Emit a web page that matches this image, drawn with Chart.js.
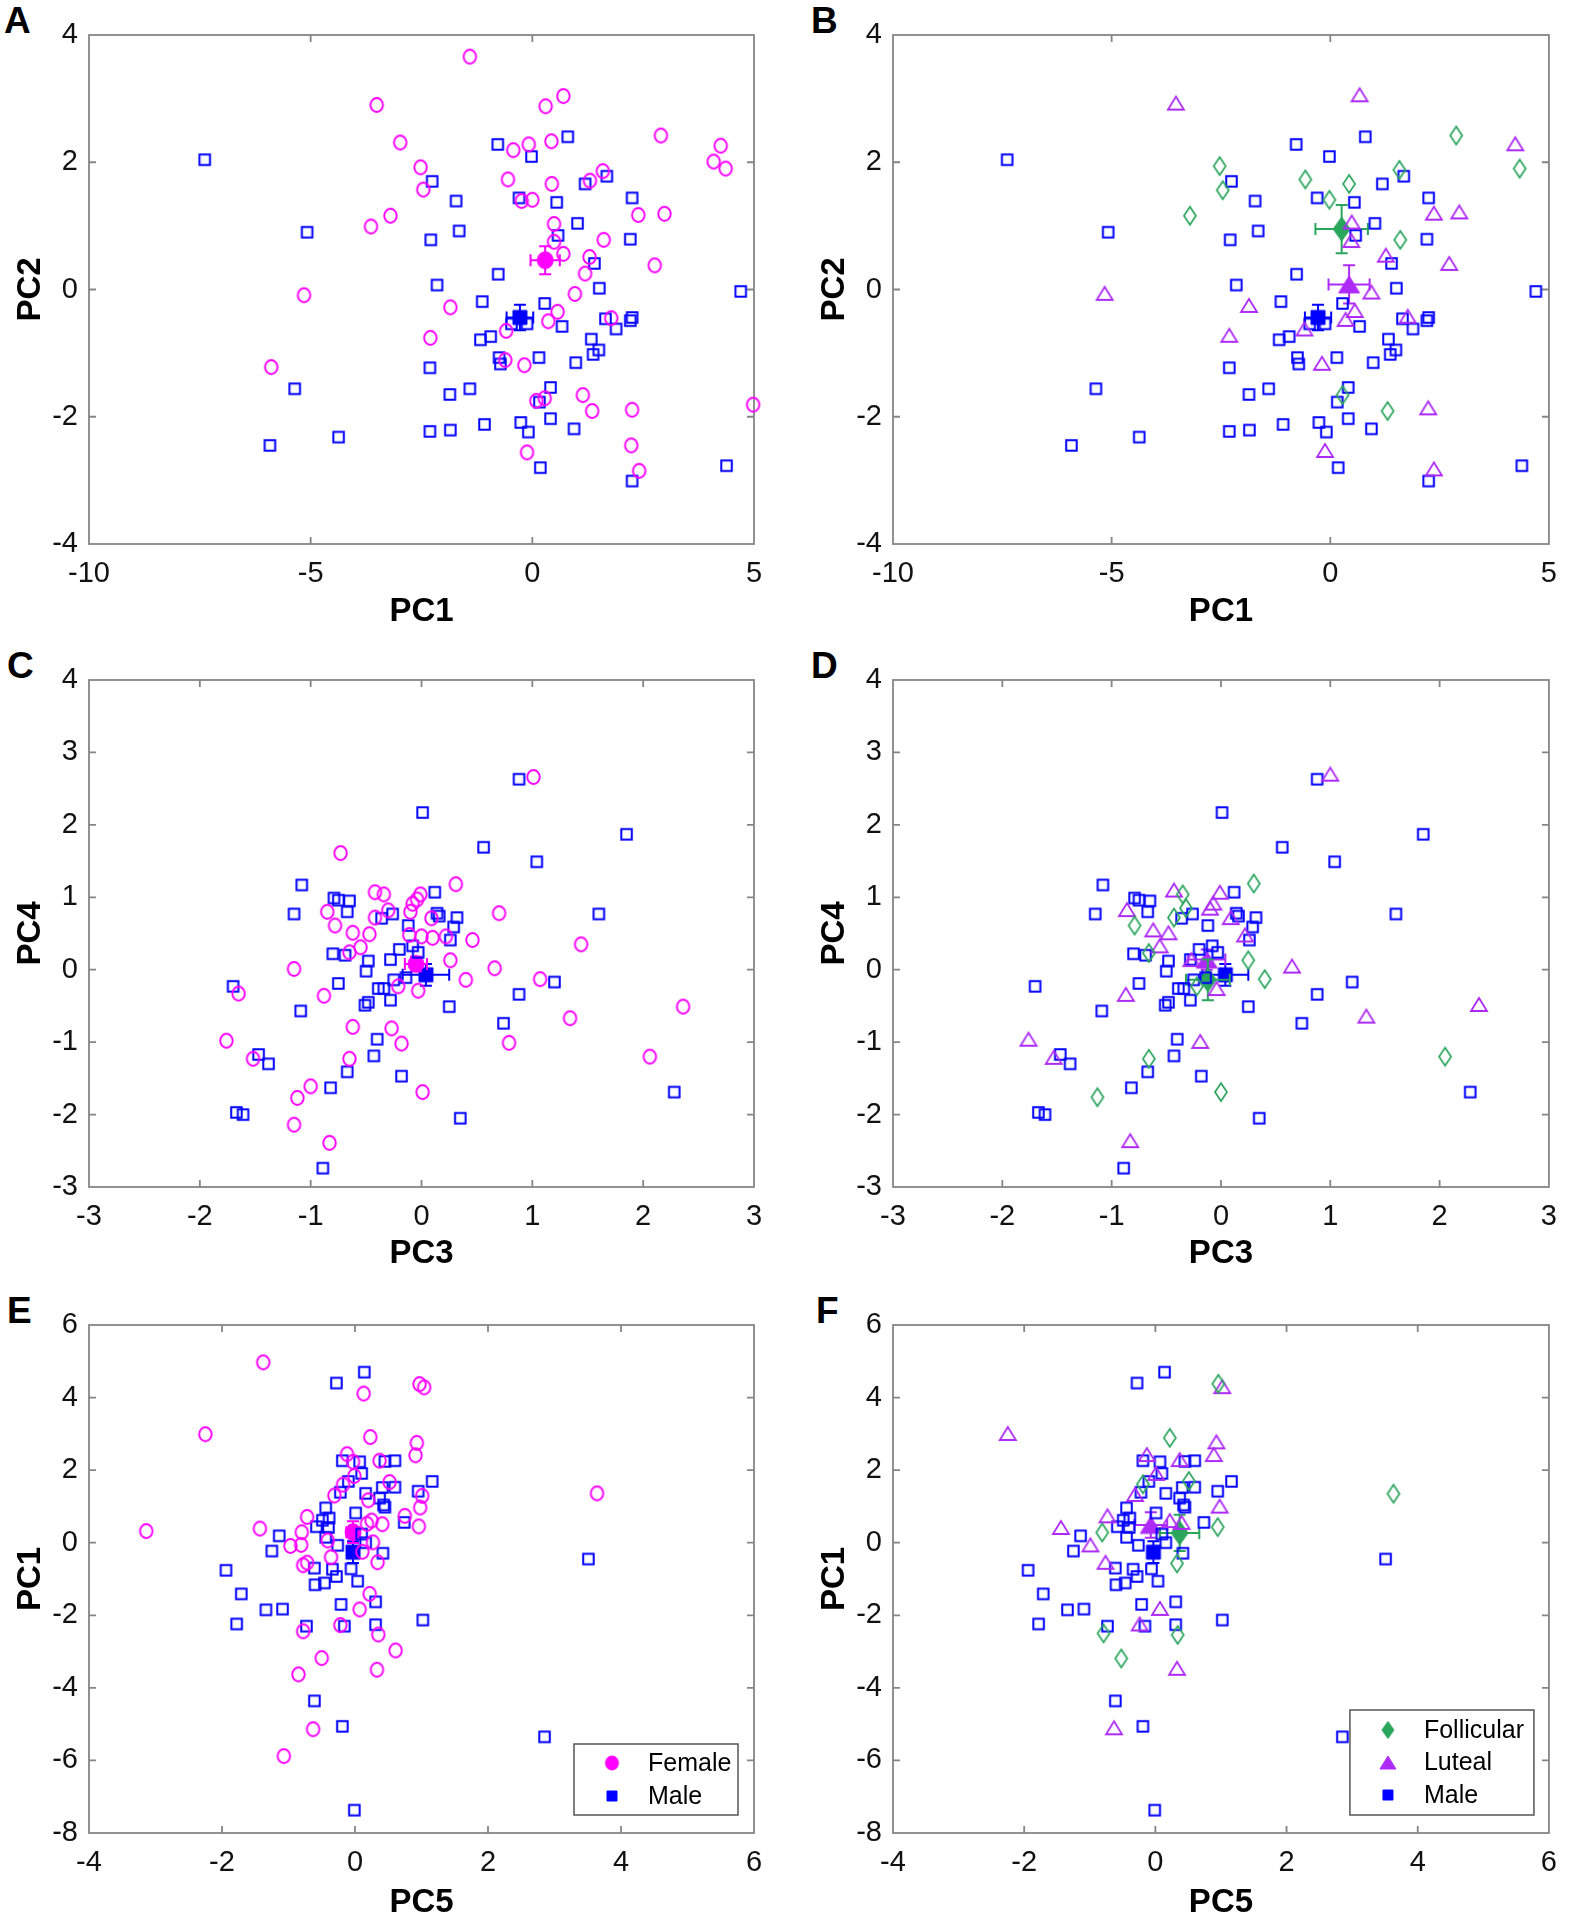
<!DOCTYPE html>
<html lang="en">
<head>
    <meta charset="UTF-8">
    <title>PC scores: female / male, follicular / luteal</title>
    <style>
        body {
            margin: 0;
            background: #fff;
            font-family: "Liberation Sans", Arial, sans-serif;
            overflow: hidden;
        }
        #page {
            position: relative;
            width: 1570px;
            height: 1920px;
        }
        .panel {
            position: absolute;
        }
        .tag {
            position: absolute;
            font-weight: bold;
            font-size: 37px;
            line-height: 1;
            color: #000;
        }
    </style>
    <script src="https://cdn.jsdelivr.net/npm/chart.js"></script>
</head>
<body>
<div id="page">
    <div class="tag" style="left:4px;top:2px">A</div>
    <div class="tag" style="left:811px;top:2px">B</div>
    <div class="tag" style="left:7px;top:647px">C</div>
    <div class="tag" style="left:811px;top:647px">D</div>
    <div class="tag" style="left:7px;top:1292px">E</div>
    <div class="tag" style="left:816px;top:1292px">F</div>
</div>
<script>
    // ---- tick values ----
    const ticksPC1 = [-10, -5, 0, 5];
    const ticksPC2 = [-4, -2, 0, 2, 4];
    const ticksPC3 = [-3, -2, -1, 0, 1, 2, 3];
    const ticksPC4 = [-3, -2, -1, 0, 1, 2, 3, 4];
    const ticksPC5 = [-4, -2, 0, 2, 4, 6];
    const ticksPC1v = [-8, -6, -4, -2, 0, 2, 4, 6];

    // ---- PC1 vs PC2 (panels A, B) ----
    const maleAB_x = [-7.39, -0.78, -0.02, 0.80, -2.26, -1.72, -0.30, 0.55, 1.19, 1.68, 2.25, -5.08, -2.29, -1.65, 1.02, 0.58, 2.21, 1.40, -0.77, -2.15, 1.51, 4.70, -1.13, 0.28, -0.47, -0.12, 0.67, 1.65, 1.89, 2.21, 2.25, -1.17, -0.94, 1.33, -0.75, -0.72, 0.15, 0.98, 1.37, 1.50, -2.31, -5.36, -1.41, -1.86, 0.41, 0.16, -2.31, -1.85, -1.08, -0.26, -0.09, 0.41, 0.94, -5.92, -4.37, 0.18, 2.25, 4.38];
    const maleAB_y = [2.04, 2.28, 2.09, 2.40, 1.70, 1.39, 1.44, 1.37, 1.66, 1.78, 1.44, 0.90, 0.78, 0.92, 1.04, 0.85, 0.79, 0.41, 0.24, 0.07, 0.02, -0.03, -0.19, -0.22, -0.54, -0.54, -0.58, -0.46, -0.62, -0.49, -0.44, -0.79, -0.74, -0.78, -1.07, -1.17, -1.07, -1.15, -1.02, -0.95, -1.23, -1.56, -1.56, -1.65, -1.54, -1.77, -2.23, -2.21, -2.12, -2.09, -2.24, -2.03, -2.19, -2.45, -2.32, -2.80, -3.01, -2.77];
    const femaleA_x = [-1.41, -3.51, 0.30, 0.70, -2.98, -0.08, -0.43, 0.43, 2.90, 4.25, 4.09, 4.36, -2.52, -2.46, -0.55, 0.44, 1.59, 1.30, -0.24, 0.00, -3.20, -3.64, 0.49, 2.39, 2.98, 1.61, 0.49, 0.70, 1.29, 2.76, 1.19, -5.15, 0.96, -1.85, 0.57, 0.36, -0.59, 1.78, -2.30, -5.89, -0.61, -0.18, 1.14, 0.28, 0.09, 1.35, 2.25, 4.98, -0.12, 2.23, 2.41];
    const femaleA_y = [3.66, 2.90, 2.88, 3.04, 2.31, 2.28, 2.19, 2.33, 2.42, 2.26, 2.01, 1.90, 1.92, 1.57, 1.73, 1.66, 1.86, 1.71, 1.39, 1.41, 1.16, 0.99, 1.03, 1.17, 1.19, 0.78, 0.75, 0.56, 0.51, 0.38, 0.25, -0.09, -0.07, -0.28, -0.35, -0.50, -0.65, -0.45, -0.76, -1.22, -1.11, -1.19, -1.66, -1.71, -1.75, -1.91, -1.89, -1.81, -2.56, -2.45, -2.85];
    const follB_x = [-2.53, -2.46, -3.21, -0.57, 0.43, -0.02, 1.58, 2.88, 4.33, 1.60, 0.28, 1.31];
    const follB_y = [1.94, 1.56, 1.16, 1.73, 1.66, 1.41, 1.88, 2.42, 1.90, 0.78, -1.66, -1.91];
    const lutB_x = [-3.53, 0.67, 4.23, 0.49, 2.37, 2.95, 0.48, 1.27, 2.72, -5.16, 0.94, -1.86, 0.56, 0.35, -0.59, 1.77, -2.31, -0.19, 2.24, -0.12, 2.37];
    const lutB_y = [2.93, 3.06, 2.29, 1.06, 1.20, 1.22, 0.77, 0.54, 0.41, -0.06, -0.04, -0.25, -0.33, -0.47, -0.62, -0.42, -0.72, -1.16, -1.86, -2.53, -2.82];
    // group means [x, y] and error half-widths [ex, ey]
    const meanFemaleA = [0.29, 0.46], errFemaleA = [0.33, 0.22];
    const meanMaleAB = [-0.28, -0.44], errMaleAB = [0.30, 0.20];
    const meanFollB = [0.26, 0.95], errFollB = [0.60, 0.38];
    const meanLutB = [0.43, 0.08], errLutB = [0.47, 0.30];

    // ---- PC3 vs PC4 (panels C, D) ----
    const maleCD_x = [0.88, 0.01, 1.85, 0.56, 1.04, -1.08, 0.12, -0.79, -0.75, -0.65, -1.15, -0.67, -0.36, -0.26, 0.14, 0.16, 0.32, 0.29, -0.12, 1.60, 0.26, -0.08, -0.20, -0.03, -0.80, -0.69, -0.48, -0.28, -0.50, -0.75, -0.25, -0.14, 1.20, -1.70, -0.39, -0.34, -0.28, 0.88, -0.48, -0.51, 0.25, -1.09, 0.74, -0.40, -1.47, -1.38, -0.43, -0.67, -0.18, -0.82, 2.28, -1.67, -1.61, 0.35, -0.89];
    const maleCD_y = [2.63, 2.17, 1.87, 1.69, 1.49, 1.17, 1.07, 0.99, 0.96, 0.95, 0.77, 0.80, 0.71, 0.77, 0.78, 0.74, 0.72, 0.59, 0.61, 0.77, 0.41, 0.33, 0.28, 0.24, 0.22, 0.20, 0.12, 0.14, -0.02, -0.19, -0.14, -0.11, -0.17, -0.23, -0.26, -0.26, -0.42, -0.34, -0.45, -0.49, -0.51, -0.57, -0.74, -0.96, -1.17, -1.30, -1.19, -1.41, -1.47, -1.63, -1.69, -1.97, -2.00, -2.05, -2.74];
    const femaleC_x = [1.01, -0.73, 0.31, -0.42, -0.34, -0.01, -0.04, -0.08, -0.30, -0.10, -0.85, 0.70, -0.42, 0.09, -0.78, -0.62, -0.47, -0.11, 0.00, 0.10, 0.22, 0.46, 1.44, -0.55, -0.65, 0.26, 0.66, -1.15, 0.40, 1.07, -0.21, -0.03, -1.65, -0.88, 2.36, 1.34, -0.62, -0.27, -1.76, -0.18, 0.79, -1.52, -0.65, 2.06, -1.00, -1.12, 0.01, -1.15, -0.83];
    const femaleC_y = [2.66, 1.61, 1.18, 1.07, 1.04, 1.04, 0.97, 0.91, 0.82, 0.80, 0.80, 0.78, 0.72, 0.71, 0.61, 0.51, 0.49, 0.48, 0.46, 0.44, 0.46, 0.41, 0.35, 0.31, 0.24, 0.13, 0.02, 0.01, -0.14, -0.13, -0.23, -0.29, -0.33, -0.36, -0.51, -0.67, -0.79, -0.81, -0.98, -1.02, -1.01, -1.23, -1.23, -1.20, -1.61, -1.77, -1.69, -2.14, -2.39];
    const follD_x = [0.30, -0.35, -0.32, -0.43, -0.79, -0.66, 0.25, 0.40, -0.22, -0.66, -1.13, 0.00, 2.05];
    const follD_y = [1.19, 1.04, 0.85, 0.72, 0.61, 0.23, 0.13, -0.13, -0.23, -1.23, -1.76, -1.69, -1.20];
    const lutD_x = [1.00, -0.43, -0.01, -0.07, -0.10, -0.86, 0.09, -0.62, -0.48, 0.22, -0.56, -0.27, 0.65, -0.87, -0.04, 1.33, 2.36, -1.76, -1.53, -0.19, -0.83];
    const lutD_y = [2.70, 1.10, 1.07, 0.92, 0.85, 0.83, 0.72, 0.55, 0.51, 0.48, 0.33, 0.14, 0.05, -0.34, -0.26, -0.64, -0.48, -0.96, -1.21, -0.99, -2.36];
    const meanFemaleC = [-0.05, 0.08], errFemaleC = [0.10, 0.10];
    const meanMaleCD = [0.04, -0.07], errMaleCD = [0.21, 0.15];
    const meanFollD = [-0.12, -0.14], errFollD = [0.20, 0.28];
    const meanLutD = [-0.13, 0.14], errLutD = [0.17, 0.14];

    // ---- PC5 vs PC1 (panels E, F) ----
    const maleEF_x = [0.14, -0.28, -0.19, 0.07, 0.45, 0.60, 0.10, 1.16, -0.10, -0.22, 0.16, 0.41, 0.60, 0.95, 0.37, 0.43, 0.45, -0.44, 0.01, -0.39, -0.49, 0.74, -0.58, -0.40, -1.14, -0.44, 0.10, -1.25, -0.26, 0.16, 0.42, -1.94, -0.61, -0.34, -0.06, -0.28, 0.04, -0.60, -0.46, -1.71, -1.34, -1.09, -0.21, 0.31, -1.78, -0.73, -0.16, 0.31, 1.02, 3.51, -0.61, -0.19, 2.85, -0.01];
    const maleEF_y = [4.70, 4.40, 2.26, 2.23, 2.24, 2.26, 1.91, 1.69, 1.69, 1.39, 1.36, 1.52, 1.53, 1.42, 1.23, 1.04, 0.98, 0.96, 0.82, 0.68, 0.62, 0.56, 0.44, 0.42, 0.19, 0.15, 0.24, -0.23, -0.07, 0.00, -0.29, -0.76, -0.70, -0.73, -0.72, -0.93, -1.06, -1.16, -1.11, -1.41, -1.85, -1.83, -1.70, -1.63, -2.24, -2.30, -2.30, -2.26, -2.13, -0.45, -4.36, -5.06, -5.35, -7.37];
    const femaleE_x = [-1.38, 0.97, 1.04, 0.13, -2.25, 0.23, 0.93, 0.91, -0.12, -0.03, 0.37, -0.01, -0.18, 0.52, -0.31, 0.20, 1.01, 3.64, 0.98, -0.72, 0.75, 0.25, 0.18, 0.41, 0.96, -1.43, -3.14, -0.80, -0.97, -0.81, 0.27, -0.41, -0.36, 0.11, 0.34, -0.78, -0.72, 0.22, 0.07, -0.22, -0.78, 0.35, 0.61, -0.50, 0.33, -0.85, -0.63, -1.07];
    const femaleE_y = [4.97, 4.37, 4.28, 4.11, 2.99, 2.91, 2.75, 2.41, 2.44, 2.23, 2.26, 1.84, 1.60, 1.67, 1.30, 1.17, 1.29, 1.36, 0.97, 0.71, 0.74, 0.61, 0.52, 0.51, 0.45, 0.39, 0.32, 0.29, -0.09, -0.06, 0.01, 0.06, -0.40, -0.25, -0.54, -0.62, -0.55, -1.41, -1.84, -2.27, -2.44, -2.53, -2.97, -3.18, -3.50, -3.63, -5.14, -5.88];
    const follF_x = [0.96, 0.22, 0.51, -0.19, 3.63, 0.95, -0.81, 0.33, -0.79, 0.34, -0.52];
    const follF_y = [4.38, 2.89, 1.70, 1.61, 1.35, 0.43, 0.28, -0.57, -2.50, -2.54, -3.19];
    const lutF_x = [1.02, -2.25, 0.93, 0.89, -0.13, 0.37, 0.01, -0.31, 0.98, -0.73, 0.22, 0.40, -1.44, -0.99, -0.76, 0.07, -0.24, 0.33, -0.63];
    const lutF_y = [4.30, 3.01, 2.78, 2.43, 2.43, 2.29, 1.91, 1.33, 1.01, 0.74, 0.61, 0.56, 0.42, -0.06, -0.54, -1.81, -2.24, -3.46, -5.10];
    const meanFemaleE = [-0.03, 0.29], errFemaleE = [0.10, 0.30];
    const meanMaleEF = [-0.03, -0.26], errMaleEF = [0.08, 0.30];
    const meanFollF = [0.37, 0.27], errFollF = [0.30, 0.50];
    const meanLutF = [-0.07, 0.49], errLutF = [0.25, 0.35];

    // ---- colours ----
    const C_FEMALE = '#ff00ff';
    const C_MALE = '#0000ff';
    const C_FOLL = '#2aa55c';
    const C_LUT = '#ae2bf7';

    // small canvases used as point styles
    function markerImage(shape, color, filled, w, h, lw) {
        const pad = Math.ceil(lw) + 1;
        const c = document.createElement('canvas');
        c.width = Math.ceil(w + 2 * pad);
        c.height = Math.ceil(h + 2 * pad);
        const g = c.getContext('2d');
        const cx = c.width / 2, cy = c.height / 2;
        g.beginPath();
        if (shape === 'circle') {
            g.ellipse(cx, cy, w / 2, h / 2, 0, 0, Math.PI * 2);
        } else if (shape === 'square') {
            g.rect(cx - w / 2, cy - h / 2, w, h);
        } else if (shape === 'diamond') {
            g.moveTo(cx, cy - h / 2);
            g.lineTo(cx + w / 2, cy);
            g.lineTo(cx, cy + h / 2);
            g.lineTo(cx - w / 2, cy);
            g.closePath();
        } else {
            g.moveTo(cx, cy - h / 2);
            g.lineTo(cx + w / 2, cy + h / 2);
            g.lineTo(cx - w / 2, cy + h / 2);
            g.closePath();
        }
        if (filled) {
            g.fillStyle = color;
            g.fill();
        }
        g.strokeStyle = color;
        g.lineWidth = lw;
        g.stroke();
        return c;
    }

    const mk = {
        female: markerImage('circle', C_FEMALE, false, 12.5, 14, 1.9),
        male: markerImage('square', C_MALE, false, 10.5, 10.5, 2),
        foll: markerImage('diamond', C_FOLL, false, 12, 18, 1.7),
        lut: markerImage('triangle', C_LUT, false, 16, 13, 1.8),
        femaleMean: markerImage('circle', C_FEMALE, true, 16, 17, 1),
        maleMean: markerImage('square', C_MALE, true, 14, 14, 1),
        follMean: markerImage('diamond', C_FOLL, true, 17, 24, 1),
        lutMean: markerImage('triangle', C_LUT, true, 21, 17, 1),
        femaleKey: markerImage('circle', C_FEMALE, true, 13, 14, 1),
        maleKey: markerImage('square', C_MALE, true, 10, 10, 1),
        follKey: markerImage('diamond', C_FOLL, true, 12, 17, 1),
        lutKey: markerImage('triangle', C_LUT, true, 16, 13, 1)
    };

    function points(xs, ys) {
        return xs.map((x, i) => ({x: x, y: ys[i]}));
    }

    function cloud(label, xs, ys, img) {
        return {label: label, data: points(xs, ys), pointStyle: img, pointRadius: 6, clip: false};
    }

    function meanSet(label, m, e, color, img, key) {
        return {
            label: label, data: [{x: m[0], y: m[1]}], pointStyle: img, pointRadius: 8, clip: false,
            errX: e[0], errY: e[1], errColor: color, legendImg: key
        };
    }

    // error bars drawn just before the mean marker of each group
    const errorBars = {
        id: 'errorBars',
        beforeDatasetDraw(chart, args) {
            const ds = chart.data.datasets[args.index];
            if (ds.errX === undefined) return;
            const xs = chart.scales.x, ys = chart.scales.y, g = chart.ctx;
            const p = ds.data[0];
            const px = xs.getPixelForValue(p.x), py = ys.getPixelForValue(p.y);
            const x0 = xs.getPixelForValue(p.x - ds.errX), x1 = xs.getPixelForValue(p.x + ds.errX);
            const y0 = ys.getPixelForValue(p.y - ds.errY), y1 = ys.getPixelForValue(p.y + ds.errY);
            const cap = 6;
            g.save();
            g.strokeStyle = ds.errColor;
            g.lineWidth = 2;
            g.beginPath();
            g.moveTo(x0, py); g.lineTo(x1, py);
            g.moveTo(x0, py - cap); g.lineTo(x0, py + cap);
            g.moveTo(x1, py - cap); g.lineTo(x1, py + cap);
            g.moveTo(px, y0); g.lineTo(px, y1);
            g.moveTo(px - cap, y0); g.lineTo(px + cap, y0);
            g.moveTo(px - cap, y1); g.lineTo(px + cap, y1);
            g.stroke();
            g.restore();
        }
    };

    // box round the plot area with inward ticks on all four sides
    const frame = {
        id: 'frame',
        beforeDatasetsDraw(chart) {
            const {left, right, top, bottom} = chart.chartArea;
            const g = chart.ctx, t = 7;
            const xs = chart.scales.x, ys = chart.scales.y;
            g.save();
            g.strokeStyle = '#858585';
            g.lineWidth = 1.8;
            g.strokeRect(left, top, right - left, bottom - top);
            g.beginPath();
            xs.ticks.forEach(tk => {
                const px = xs.getPixelForValue(tk.value);
                if (px <= left + 1 || px >= right - 1) return;
                g.moveTo(px, bottom); g.lineTo(px, bottom - t);
                g.moveTo(px, top); g.lineTo(px, top + t);
            });
            ys.ticks.forEach(tk => {
                const py = ys.getPixelForValue(tk.value);
                if (py <= top + 1 || py >= bottom - 1) return;
                g.moveTo(left, py); g.lineTo(left + t, py);
                g.moveTo(right, py); g.lineTo(right - t, py);
            });
            g.stroke();
            g.restore();
        }
    };

    // boxed legend in the lower right corner of the plot area
    const boxLegend = {
        id: 'boxLegend',
        afterDraw(chart, args, opts) {
            if (!opts || !opts.width) return;
            const rows = chart.data.datasets.filter(d => d.legendImg);
            const {right, bottom} = chart.chartArea;
            const h = opts.firstRow * 2 + (rows.length - 1) * opts.rowGap;
            const x = right - opts.right - opts.width;
            const y = bottom - opts.bottom - h;
            const g = chart.ctx;
            g.save();
            g.fillStyle = '#fff';
            g.fillRect(x, y, opts.width, h);
            g.strokeStyle = '#555';
            g.lineWidth = 1.5;
            g.strokeRect(x, y, opts.width, h);
            g.font = '25px "Liberation Sans", Arial, sans-serif';
            g.fillStyle = '#000';
            g.textBaseline = 'middle';
            rows.forEach((d, i) => {
                const ry = y + opts.firstRow + i * opts.rowGap;
                const img = d.legendImg;
                g.drawImage(img, x + 38 - img.width / 2, ry - img.height / 2);
                g.fillText(d.label, x + 74, ry + 1);
            });
            g.restore();
        }
    };

    // page geometry of the six panels
    const COLS = [
        {x: 0, w: 785, left: 89, right: 754, yTitlePad: 14.5},
        {x: 790, w: 780, left: 893, right: 1557, yTitlePad: 28.5}
    ];
    const ROWS = [
        {y: 0, h: 645, top: 35, bottom: 544, xTitlePad: 16.5},
        {y: 645, h: 645, top: 680, bottom: 1187, xTitlePad: 19.5},
        {y: 1290, h: 630, top: 1325, bottom: 1833, xTitlePad: 0.5}
    ];

    const tickFont = {family: '"Liberation Sans", Arial, sans-serif', size: 29};
    const titleFont = {family: '"Liberation Sans", Arial, sans-serif', size: 33, weight: 'bold', lineHeight: 1};

    function makePanel(col, row, xTicks, yTicks, xTitle, yTitle, datasets, legendOpts) {
        const c = COLS[col], r = ROWS[row];
        const canvas = document.createElement('canvas');
        canvas.className = 'panel';
        canvas.width = c.w;
        canvas.height = r.h;
        canvas.style.left = c.x + 'px';
        canvas.style.top = r.y + 'px';
        document.getElementById('page').appendChild(canvas);

        const yAxisW = c.left - c.x;
        const xAxisH = r.y + r.h - r.bottom;

        new Chart(canvas.getContext('2d'), {
            type: 'scatter',
            data: {datasets: datasets},
            options: {
                responsive: false,
                animation: false,
                events: [],
                layout: {
                    autoPadding: false,
                    padding: {left: 0, top: r.top - r.y, right: c.x + c.w - c.right, bottom: 0}
                },
                scales: {
                    x: {
                        type: 'linear',
                        min: xTicks[0],
                        max: xTicks[xTicks.length - 1],
                        afterBuildTicks: s => { s.ticks = xTicks.map(v => ({value: v})); },
                        afterFit: s => { s.height = xAxisH; },
                        grid: {display: false, drawTicks: false},
                        border: {display: false},
                        ticks: {font: tickFont, color: '#111', padding: 13, maxRotation: 0, autoSkip: false},
                        title: {display: true, text: xTitle, font: titleFont, color: '#000', padding: {top: 0, bottom: r.xTitlePad}}
                    },
                    y: {
                        type: 'linear',
                        min: yTicks[0],
                        max: yTicks[yTicks.length - 1],
                        afterBuildTicks: s => { s.ticks = yTicks.map(v => ({value: v})); },
                        afterFit: s => { s.width = yAxisW; },
                        grid: {display: false, drawTicks: false},
                        border: {display: false},
                        ticks: {font: tickFont, color: '#111', padding: 11, autoSkip: false},
                        title: {display: true, text: yTitle, font: titleFont, color: '#000', padding: {top: c.yTitlePad, bottom: 0}}
                    }
                },
                plugins: {
                    legend: {display: false},
                    tooltip: {enabled: false},
                    boxLegend: legendOpts || {}
                }
            },
            plugins: [frame, errorBars, boxLegend]
        });
    }

    // A
    makePanel(0, 0, ticksPC1, ticksPC2, 'PC1', 'PC2', [
        cloud('Female', femaleA_x, femaleA_y, mk.female),
        cloud('Male', maleAB_x, maleAB_y, mk.male),
        meanSet('Female', meanFemaleA, errFemaleA, C_FEMALE, mk.femaleMean),
        meanSet('Male', meanMaleAB, errMaleAB, C_MALE, mk.maleMean)
    ]);
    // B
    makePanel(1, 0, ticksPC1, ticksPC2, 'PC1', 'PC2', [
        cloud('Follicular', follB_x, follB_y, mk.foll),
        cloud('Luteal', lutB_x, lutB_y, mk.lut),
        cloud('Male', maleAB_x, maleAB_y, mk.male),
        meanSet('Follicular', meanFollB, errFollB, C_FOLL, mk.follMean),
        meanSet('Luteal', meanLutB, errLutB, C_LUT, mk.lutMean),
        meanSet('Male', meanMaleAB, errMaleAB, C_MALE, mk.maleMean)
    ]);
    // C
    makePanel(0, 1, ticksPC3, ticksPC4, 'PC3', 'PC4', [
        cloud('Female', femaleC_x, femaleC_y, mk.female),
        cloud('Male', maleCD_x, maleCD_y, mk.male),
        meanSet('Female', meanFemaleC, errFemaleC, C_FEMALE, mk.femaleMean),
        meanSet('Male', meanMaleCD, errMaleCD, C_MALE, mk.maleMean)
    ]);
    // D
    makePanel(1, 1, ticksPC3, ticksPC4, 'PC3', 'PC4', [
        cloud('Follicular', follD_x, follD_y, mk.foll),
        cloud('Luteal', lutD_x, lutD_y, mk.lut),
        cloud('Male', maleCD_x, maleCD_y, mk.male),
        meanSet('Follicular', meanFollD, errFollD, C_FOLL, mk.follMean),
        meanSet('Luteal', meanLutD, errLutD, C_LUT, mk.lutMean),
        meanSet('Male', meanMaleCD, errMaleCD, C_MALE, mk.maleMean)
    ]);
    // E
    makePanel(0, 2, ticksPC5, ticksPC1v, 'PC5', 'PC1', [
        cloud('Female', femaleE_x, femaleE_y, mk.female),
        cloud('Male', maleEF_x, maleEF_y, mk.male),
        meanSet('Female', meanFemaleE, errFemaleE, C_FEMALE, mk.femaleMean, mk.femaleKey),
        meanSet('Male', meanMaleEF, errMaleEF, C_MALE, mk.maleMean, mk.maleKey)
    ], {right: 16, bottom: 18, width: 164, firstRow: 19, rowGap: 33});
    // F
    makePanel(1, 2, ticksPC5, ticksPC1v, 'PC5', 'PC1', [
        cloud('Follicular', follF_x, follF_y, mk.foll),
        cloud('Luteal', lutF_x, lutF_y, mk.lut),
        cloud('Male', maleEF_x, maleEF_y, mk.male),
        meanSet('Follicular', meanFollF, errFollF, C_FOLL, mk.follMean, mk.follKey),
        meanSet('Luteal', meanLutF, errLutF, C_LUT, mk.lutMean, mk.lutKey),
        meanSet('Male', meanMaleEF, errMaleEF, C_MALE, mk.maleMean, mk.maleKey)
    ], {right: 15, bottom: 18, width: 184, firstRow: 20, rowGap: 32.5});
</script>
</body>
</html>
